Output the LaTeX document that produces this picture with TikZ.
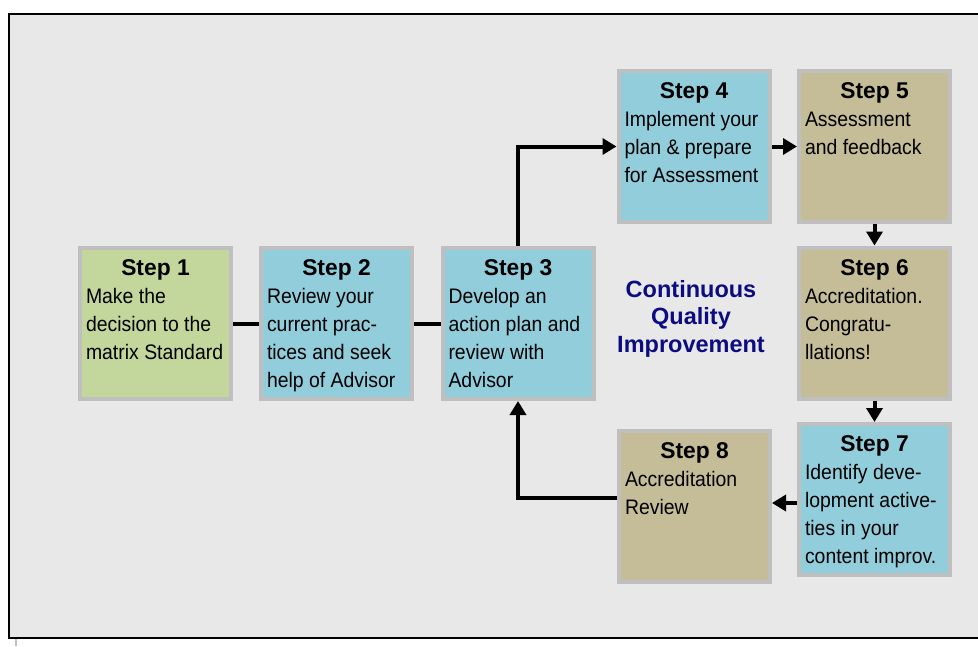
\documentclass[tikz,border=0pt]{standalone}
\usepackage{fontspec}
\setmainfont{Liberation Sans}
\newfontfamily\bodyfont[FakeStretch=0.925]{Liberation Sans}
\usetikzlibrary{arrows.meta}

\definecolor{panelbg}{HTML}{E8E8E8}
\definecolor{boxline}{HTML}{BFBFBF}
\definecolor{stepgreen}{HTML}{C3D69B}
\definecolor{stepblue}{HTML}{92CDDC}
\definecolor{steptan}{HTML}{C4BD97}
\definecolor{cqinavy}{HTML}{0C0C80}

% title centred on top, description left aligned below
\newcommand{\stepcontent}[2]{%
  \parbox[c][127pt][t]{139pt}{%
    {\centering\fontsize{22.8}{28}\selectfont\bfseries #1\par}%
    \raggedright\bodyfont\mdseries\fontsize{21}{28}\selectfont #2\par}}

\tikzset{
  stepbox/.style={draw=boxline, line width=4pt, minimum width=151pt,
    minimum height=151pt, inner sep=0pt},
  link/.style={line width=4pt},
  arr/.style={line width=4pt, -{Triangle[width=16pt,length=14pt]}},
}

\begin{document}
\begin{tikzpicture}[x=1pt,y=-1pt]
\useasboundingbox (0,0) rectangle (978,646);

% panel frame
\fill[white] (0,0) rectangle (978,646);
\draw[black, line width=2pt, fill=panelbg] (9,14.3) rectangle (992,637.5);
\draw[gray!50, line width=1.5pt] (16,639) -- (16,646);

% steps
\node[stepbox, fill=stepgreen] (s1) at (155.5,323.5)
  {\stepcontent{Step 1}{Make the\\decision to the\\matrix Standard}};
\node[stepbox, fill=stepblue] (s2) at (336.5,323.5)
  {\stepcontent{Step 2}{Review your\\current prac-\\tices and seek\\help of Advisor}};
\node[stepbox, fill=stepblue] (s3) at (518,323.5)
  {\stepcontent{Step 3}{Develop an\\action plan and\\review with\\Advisor}};
\node[stepbox, fill=stepblue] (s4) at (694,146.5)
  {\stepcontent{Step 4}{Implement your\\plan \& prepare\\for Assessment}};
\node[stepbox, fill=steptan] (s5) at (874.5,146.5)
  {\stepcontent{Step 5}{Assessment\\and feedback}};
\node[stepbox, fill=steptan] (s6) at (874.5,323)
  {\stepcontent{Step 6}{Accreditation.\\Congratu-\\llations!}};
\node[stepbox, fill=stepblue] (s7) at (874.5,499.5)
  {\stepcontent{Step 7}{Identify deve-\\lopment active-\\ties in your\\content improv.}};
\node[stepbox, fill=steptan] (s8) at (694.5,506)
  {\stepcontent{Step 8}{Accreditation\\Review}};

% centre caption
\node[text=cqinavy, font=\fontsize{23.5}{27.5}\selectfont\bfseries,
  align=center, inner sep=0pt] (cqi) at (691,318.5)
  {Continuous\\Quality\\Improvement};

% connectors
\draw[link] (s1) -- (s2);
\draw[link] (s2) -- (s3);
\draw[arr] (s3.north) |- (s4.west);
\draw[arr] (s4) -- (s5);
\draw[arr] (s5) -- (s6);
\draw[arr] (s6) -- (s7);
\draw[arr] (s7.west |- 0,503) -- (s8.east |- 0,503);
\draw[arr] (s8.west |- 0,498) -| (s3.south);
\end{tikzpicture}
\end{document}
